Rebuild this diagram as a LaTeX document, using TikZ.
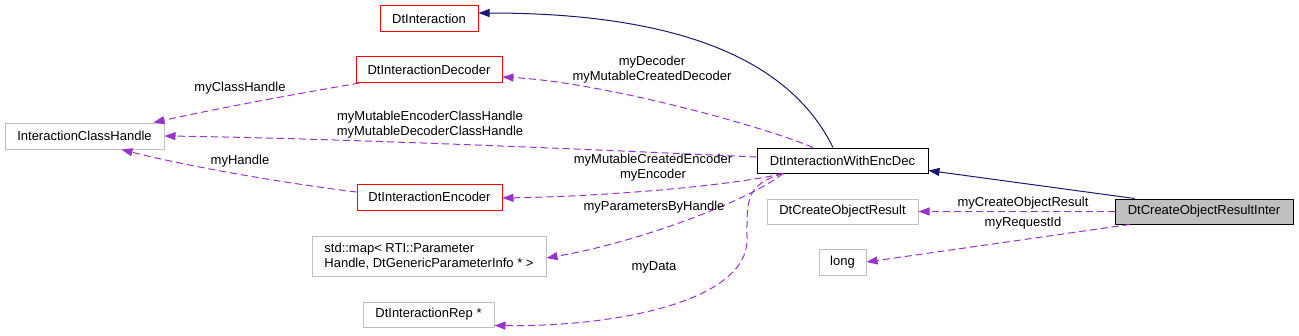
\documentclass[tikz,border=0pt]{standalone}
\usepackage{fontspec}
\setmainfont{Liberation Sans}
\usetikzlibrary{arrows.meta}
\definecolor{edgepurple}{HTML}{9A32CD}
\definecolor{navyblue}{HTML}{191970}
\definecolor{boxgray}{HTML}{BFBFBF}
\definecolor{boxred}{HTML}{FF0000}
\begin{document}
\begin{tikzpicture}[x=1pt,y=-1pt,
  box/.style={draw, rectangle, inner sep=0pt, line width=1pt, font=\fontsize{13}{15}\selectfont, minimum height=25pt},
  redbox/.style={box, draw=boxred},
  graybox/.style={box, draw=boxgray},
  blackbox/.style={box, draw=black},
  mainbox/.style={box, draw=black, fill=boxgray},
  lbl/.style={inner sep=0pt, font=\fontsize{13}{15}\selectfont, align=center},
  usage/.style={draw=edgepurple, line width=1pt, dash pattern=on 7pt off 4pt, -{Triangle[length=11pt,width=8pt,fill=edgepurple]}},
  inherit/.style={draw=navyblue, line width=1pt, -{Triangle[length=11pt,width=8pt,fill=navyblue]}},
]
\useasboundingbox (0,0) rectangle (1299,335);

\node[redbox, minimum width=98pt, minimum height=26pt] (dtint) at (429,18.5) {DtInteraction};
\node[redbox, minimum width=146pt, minimum height=26pt] (decoder) at (429,69.5) {DtInteractionDecoder};
\node[graybox, minimum width=159pt, minimum height=26pt] (ich) at (84.5,136) {InteractionClassHandle};
\node[blackbox, minimum width=171pt] (encdec) at (842.5,160.5) {DtInteractionWithEncDec};
\node[redbox, minimum width=145pt, minimum height=26pt] (encoder) at (429.5,197) {DtInteractionEncoder};
\node[graybox, minimum width=234pt, minimum height=40pt, align=left] (map) at (429,256) {std::map< RTI::Parameter\\Handle, DtGenericParameterInfo * >};
\node[graybox, minimum width=131pt] (rep) at (428.5,314.5) {DtInteractionRep *};
\node[graybox, minimum width=151pt] (cor) at (842.5,211.5) {DtCreateObjectResult};
\node[graybox, minimum width=47pt, minimum height=26pt] (long) at (842.5,262) {long};
\node[mainbox, minimum width=178pt] (inter) at (1204,211.5) {DtCreateObjectResultInter};

% inheritance
\draw[inherit] ([xshift=-9.5pt]encdec.north) .. controls (790,60) and (680,13) .. ([yshift=5.5pt]dtint.east);
\draw[inherit] ([xshift=20pt]inter.north west) -- ([yshift=-10pt]encdec.east);

% usage
\draw[usage] ([xshift=-29.5pt]encdec.north) .. controls (760,125) and (600,82) .. ([yshift=-7.5pt]decoder.east);
\draw[usage] ([yshift=3.5pt]encdec.west) .. controls (560,148) and (320,138) .. (ich.east);
\draw[usage] ([xshift=4pt]decoder.south west) .. controls (290,95) and (220,108) .. ([xshift=-11pt]ich.north east);
\draw[usage] ([yshift=5pt]encoder.west) .. controls (260,180) and (170,162) .. ([xshift=37pt]ich.south);
\draw[usage] ([xshift=-59.5pt]encdec.south) .. controls (740,184) and (620,196) .. ([yshift=-1pt]encoder.east);
\draw[usage] ([xshift=-59.5pt]encdec.south) .. controls (750,200) and (640,242) .. ([yshift=-2pt]map.east);
\draw[usage] ([xshift=-59.5pt]encdec.south) .. controls (745,185) and (747,200) .. (747,240) .. controls (747,300) and (620,327) .. ([yshift=2pt]rep.south east);
\draw[usage] (inter.west) -- (cor.east);
\draw[usage] ([xshift=15pt]inter.south west) -- (long.east);

% labels
\node[lbl] (l1) at (652,70) {myDecoder\\myMutableCreatedDecoder};
\node[lbl] (l2) at (430,124.5) {myMutableEncoderClassHandle\\myMutableDecoderClassHandle};
\node[lbl] (l3) at (240,88) {myClassHandle};
\node[lbl] (l4) at (240,161) {myHandle};
\node[lbl] (l5) at (653,168) {myMutableCreatedEncoder\\myEncoder};
\node[lbl] (l6) at (654,207) {myParametersByHandle};
\node[lbl] (l7) at (654,267) {myData};
\node[lbl] (l8) at (1023,203) {myCreateObjectResult};
\node[lbl] (l9) at (1023,223) {myRequestId};
\end{tikzpicture}
\end{document}
